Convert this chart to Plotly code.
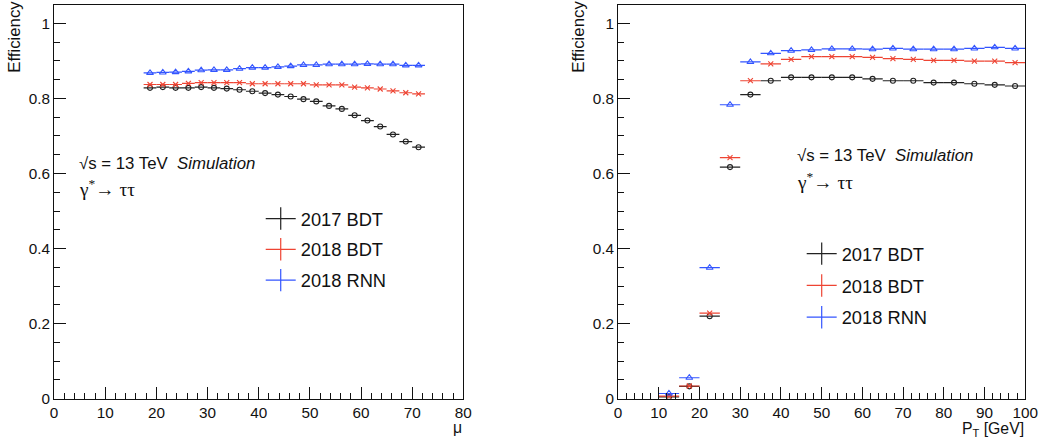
import plotly.graph_objects as go

# ---------------- data ----------------
mu_centers = [18.75, 21.25, 23.75, 26.25, 28.75, 31.25, 33.75, 36.25, 38.75, 41.25, 43.75,
              46.25, 48.75, 51.25, 53.75, 56.25, 58.75, 61.25, 63.75, 66.25, 68.75, 71.25]
mu_halfwidth = 1.25
mu_bdt2017 = [0.828, 0.830, 0.828, 0.828, 0.830, 0.828, 0.826, 0.823, 0.819, 0.814, 0.810,
              0.805, 0.798, 0.792, 0.780, 0.772, 0.755, 0.741, 0.725, 0.704, 0.685, 0.670]
mu_bdt2018 = [0.837, 0.837, 0.837, 0.840, 0.842, 0.842, 0.842, 0.842, 0.839, 0.839, 0.839,
              0.839, 0.839, 0.836, 0.836, 0.836, 0.830, 0.828, 0.825, 0.820, 0.815, 0.812]
mu_rnn2018 = [0.868, 0.869, 0.870, 0.872, 0.875, 0.876, 0.876, 0.879, 0.882, 0.882, 0.884,
              0.886, 0.889, 0.889, 0.891, 0.891, 0.891, 0.892, 0.891, 0.891, 0.888, 0.888]

pt_centers = [12.5, 17.5, 22.5, 27.5, 32.5, 37.5, 42.5, 47.5, 52.5, 57.5,
              62.5, 67.5, 72.5, 77.5, 82.5, 87.5, 92.5, 97.5]
pt_halfwidth = 2.5
pt_bdt2017 = [0.005, 0.033, 0.220, 0.617, 0.810, 0.847, 0.856, 0.856, 0.856, 0.856,
              0.852, 0.847, 0.847, 0.842, 0.842, 0.839, 0.836, 0.833]
pt_bdt2018 = [0.007, 0.034, 0.228, 0.642, 0.847, 0.892, 0.904, 0.911, 0.911, 0.911,
              0.909, 0.906, 0.904, 0.901, 0.901, 0.899, 0.899, 0.895]
pt_rnn2018 = [0.014, 0.056, 0.349, 0.783, 0.897, 0.920, 0.927, 0.929, 0.932, 0.932,
              0.931, 0.933, 0.931, 0.931, 0.931, 0.933, 0.936, 0.933]

series_names = ["2017 BDT", "2018 BDT", "2018 RNN"]
colors = ["#222222", "#ee4433", "#3355ff"]
symbols = ["circle-open", "x-thin-open", "triangle-up-open"]
sizes = [5, 5, 6]

W, H = 1046, 440
FONT = "Liberation Sans, Arial, Helvetica, sans-serif"

# compensation for the slight shrink observed in the rendered picture
SX, OX = 0.9856, 3.8
SY, OY = 0.9787, 0.5
FS = 1.0 / 0.982


def px(x):
    return ((x - OX) / SX) / W


def py(y):
    return 1 - ((y - OY) / SY) / H


def fs(s):
    return round(s * FS, 1)


fig = go.Figure()


def add_series(xs, ys, hw, xa, ya, legend):
    for i, y in enumerate(ys):
        fig.add_trace(go.Scatter(
            x=xs, y=y, mode="markers", xaxis=xa, yaxis=ya, showlegend=False,
            marker=dict(symbol=symbols[i], size=sizes[i], color=colors[i],
                        line=dict(width=1.1, color=colors[i])),
            error_x=dict(type="constant", value=hw, width=0, thickness=1.2, color=colors[i]),
        ))
    for i, name in enumerate(series_names):
        fig.add_trace(go.Scatter(
            x=[None], y=[None], mode="lines+markers", name=name, xaxis=xa, yaxis=ya,
            legend=legend, legendgroup=legend + name,
            line=dict(color=colors[i], width=1.2),
            marker=dict(symbol="line-ns", size=16, color=colors[i],
                        line=dict(width=1.2, color=colors[i])),
        ))


add_series(mu_centers, [mu_bdt2017, mu_bdt2018, mu_rnn2018], mu_halfwidth, "x", "y", "legend")
add_series(pt_centers, [pt_bdt2017, pt_bdt2018, pt_rnn2018], pt_halfwidth, "x2", "y2", "legend2")

axis_common = dict(
    showline=True, linecolor="#111111", linewidth=1, mirror=True,
    ticks="inside", ticklen=12, tickwidth=1, tickcolor="#111111",
    showgrid=False, zeroline=False,
    tickfont=dict(family=FONT, size=fs(15), color="#111111"),
)

ydom = [py(398), py(5)]
fig.update_layout(
    width=W, height=H,
    margin=dict(l=0, r=0, t=0, b=0),
    paper_bgcolor="white", plot_bgcolor="white",
    font=dict(family=FONT, color="#111111"),
    xaxis=dict(domain=[px(54), px(464)], range=[0, 80], dtick=10, tick0=0, anchor="y",
               minor=dict(ticks="inside", ticklen=6, dtick=2, tickcolor="#111111"),
               **axis_common),
    yaxis=dict(domain=ydom, range=[0, 1.05], dtick=0.2, tick0=0, anchor="x",
               minor=dict(ticks="inside", ticklen=6, dtick=0.05, tickcolor="#111111"),
               **axis_common),
    xaxis2=dict(domain=[px(619), px(1027)], range=[0, 100], dtick=10, tick0=0, anchor="y2",
                minor=dict(ticks="inside", ticklen=6, dtick=2, tickcolor="#111111"),
                **axis_common),
    yaxis2=dict(domain=ydom, range=[0, 1.05], dtick=0.2, tick0=0, anchor="x2",
                minor=dict(ticks="inside", ticklen=6, dtick=0.05, tickcolor="#111111"),
                **axis_common),
    legend=dict(x=px(261), y=py(200), xanchor="left", yanchor="top",
                bgcolor="rgba(0,0,0,0)", font=dict(family=FONT, size=fs(18), color="#111111"),
                tracegroupgap=4, itemwidth=30),
    legend2=dict(x=px(803), y=py(235), xanchor="left", yanchor="top",
                 bgcolor="rgba(0,0,0,0)", font=dict(family=FONT, size=fs(18), color="#111111"),
                 tracegroupgap=5, itemwidth=30),
)

ann_font = dict(family=FONT, size=fs(16.5), color="#111111")
sym = "<span style='font-family:Liberation Serif, Times New Roman, serif; font-size:%spx'>" % fs(19)
anns = [
    # left panel
    dict(x=px(77), y=py(163), text="√s = 13 TeV  <i>Simulation</i>", xanchor="left", yanchor="middle"),
    dict(x=px(77), y=py(188), text=sym + "γ<sup>*</sup>→ ττ</span>", xanchor="left", yanchor="middle"),
    dict(x=px(14), y=py(37), text="Efficiency", textangle=-90, xanchor="center", yanchor="middle"),
    dict(x=px(465), y=py(427), text="μ", xanchor="right", yanchor="middle",
         font=dict(family=FONT, size=fs(15.5), color="#111111")),
    # right panel
    dict(x=px(796), y=py(156), text="√s = 13 TeV  <i>Simulation</i>", xanchor="left", yanchor="middle"),
    dict(x=px(796), y=py(181), text=sym + "γ<sup>*</sup>→ ττ</span>", xanchor="left", yanchor="middle"),
    dict(x=px(579), y=py(37), text="Efficiency", textangle=-90, xanchor="center", yanchor="middle"),
    dict(x=px(1028), y=py(429), text="P<sub>T</sub> [GeV]", xanchor="right", yanchor="middle",
         font=dict(family=FONT, size=fs(15.5), color="#111111")),
]
for a in anns:
    a.setdefault("font", ann_font)
    fig.add_annotation(xref="paper", yref="paper", showarrow=False, **a)

fig.write_html("out.html")
